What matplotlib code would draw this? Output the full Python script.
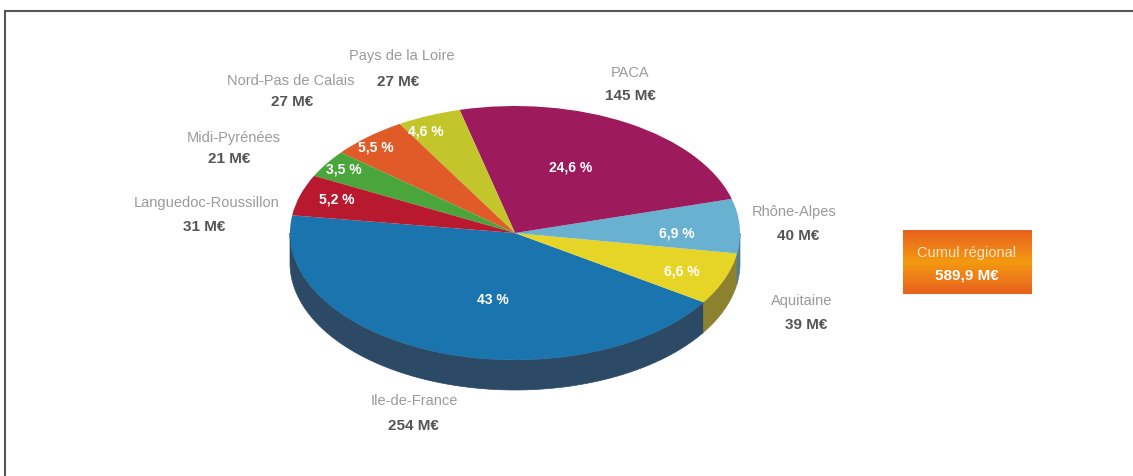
import numpy as np
import matplotlib
matplotlib.use("Agg")
import matplotlib.pyplot as plt
from matplotlib.patches import Polygon
from matplotlib.transforms import Affine2D

# Donnees du graphique (sens trigonometrique a partir de l'Ile-de-France)
regions = ["Ile-de-France", "Aquitaine", "Rhône-Alpes", "PACA",
           "Pays de la Loire", "Nord-Pas de Calais", "Midi-Pyrénées",
           "Languedoc-Roussillon"]
montants = ["254 M€", "39 M€", "40 M€", "145 M€", "27 M€", "27 M€", "21 M€", "31 M€"]
parts = [43.0, 6.6, 6.9, 24.6, 4.6, 5.5, 3.5, 5.2]
parts_txt = ["43 %", "6,6 %", "6,9 %", "24,6 %", "4,6 %", "5,5 %", "3,5 %", "5,2 %"]
cumul_txt = "589,9 M€"

couleurs = ["#1a74ae", "#e6d526", "#69b1d0", "#9d1a5c",
            "#c2c62b", "#e05b27", "#4aa53a", "#b8192f"]
couleurs_cote = ["#2c4a66", "#8c812e", "#4a7f99", "#6b1240",
                 "#878a1e", "#9c3f1b", "#33732a", "#801221"]

# Position des textes (pixels, origine en haut a gauche)
pos_noms = [(414, 401), (802, 301), (794, 212), (630, 73),
            (402, 56), (291, 81), (234, 138), (207, 203)]
pos_montants = [(413, 426), (806, 325), (798, 236), (630, 96),
                (398, 82), (292, 102), (229, 159), (204, 227)]
pos_parts = [(493, 300), (682, 271), (677, 233), (571, 167),
             (426, 131), (376, 147), (344, 170), (337, 199)]

W, H = 1133, 476
cx, cy = 515, H - 233
rx, ry = 225, 127
prof = 30
police = ["Liberation Sans", "DejaVu Sans"]

fig = plt.figure(figsize=(W / 100, H / 100), dpi=100)
ax = fig.add_axes([0, 0, 1, 1])

wedges, _ = ax.pie(parts, colors=couleurs, startangle=172, counterclock=True,
                   radius=rx, center=(cx, cy), wedgeprops=dict(linewidth=0))

# On ecrase le cercle en ellipse
ecrase = Affine2D().translate(-cx, -cy).scale(1, ry / rx).translate(cx, cy) + ax.transData
for w in wedges:
    w.set_transform(ecrase)
    w.set_zorder(3)

# Cote visible du camembert (moitie avant)
for w, c in zip(wedges, couleurs_cote):
    t1, t2 = w.theta1 % 360, w.theta2 % 360
    if t2 <= t1:
        t2 += 360
    for a, b in [(t1, t2), (t1 - 360, t2 - 360)]:
        lo, hi = max(a, 180), min(b, 360)
        if hi <= lo:
            continue
        t = np.radians(np.linspace(lo, hi, 80))
        xs = cx + rx * np.cos(t)
        ys = cy + ry * np.sin(t)
        pts = np.vstack([np.column_stack([xs, ys]),
                         np.column_stack([xs[::-1], ys[::-1] - prof])])
        ax.add_patch(Polygon(pts, closed=True, facecolor=c, edgecolor=c,
                             linewidth=0.5, zorder=2))

for nom, mt, pn, pm in zip(regions, montants, pos_noms, pos_montants):
    ax.text(pn[0], H - pn[1], nom, ha="center", va="center", fontsize=10.5,
            color="#9a9a9a", family=police)
    ax.text(pm[0], H - pm[1], mt, ha="center", va="center", fontsize=11,
            color="#555555", fontweight="bold", family=police)

for p, pp in zip(parts_txt, pos_parts):
    ax.text(pp[0], H - pp[1], p, ha="center", va="center", fontsize=10,
            color="white", fontweight="bold", family=police, zorder=5)

# Encadre "Cumul regional" avec degrade orange
cmap = matplotlib.colors.LinearSegmentedColormap.from_list(
    "orange", ["#e8601e", "#f39a10", "#e8601e"])
ax.imshow(np.linspace(0, 1, 100).reshape(-1, 1), cmap=cmap, aspect="auto",
          extent=(903, 1032, H - 294, H - 230), zorder=4, interpolation="bilinear")
ax.text(967, H - 253, "Cumul régional", ha="center", va="center", fontsize=10.5,
        color="#fbe3c4", family=police, zorder=5)
ax.text(967, H - 276, cumul_txt, ha="center", va="center", fontsize=11,
        color="white", fontweight="bold", family=police, zorder=5)

# Cadre
ax.plot([5, W], [H - 11, H - 11], color="#555555", linewidth=1.5, zorder=6)
ax.plot([5, 5], [H - 11, 0], color="#555555", linewidth=1.5, zorder=6)

ax.set_xlim(0, W)
ax.set_ylim(0, H)
ax.set_aspect("auto")
ax.axis("off")

fig.savefig("out.png", dpi=100)
